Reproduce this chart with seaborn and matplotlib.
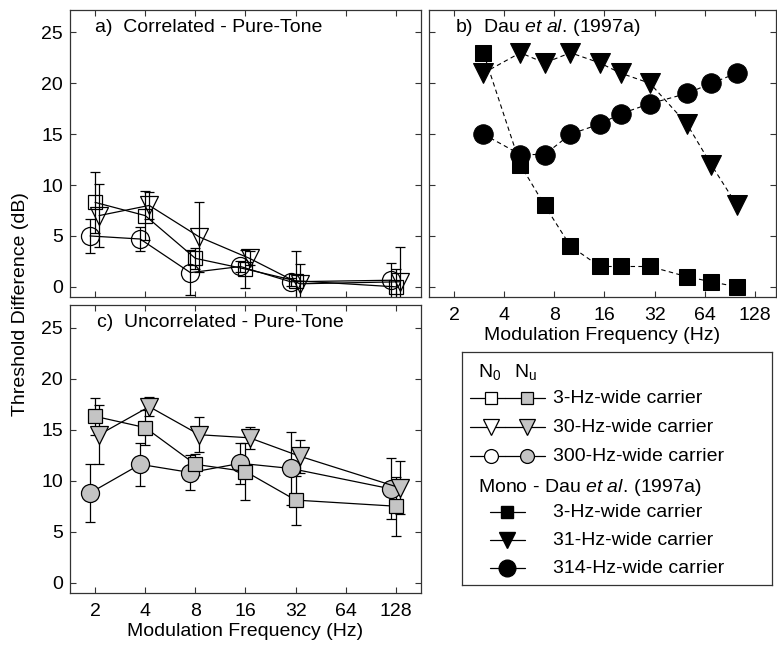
import numpy as np
import pandas as pd
import matplotlib
matplotlib.use('Agg')
import matplotlib.pyplot as plt
import seaborn as sns

# Dane
freq = [2, 4, 8, 16, 32, 128]

# a) skorelowany szum (N0), symbole puste
a_sq = [8.3, 7.0, 2.8, 1.75, 0.6, 0.0]
a_sq_err = [3.0, 2.4, 1.0, 1.9, 2.9, 1.75]
a_tri = [7.0, 8.0, 4.9, 2.8, 0.3, 0.5]
a_tri_err = [3.1, 1.3, 3.4, 0.7, 1.9, 3.4]
a_ci = [5.0, 4.7, 1.4, 2.0, 0.5, 0.65]
a_ci_err = [1.7, 1.2, 2.2, 0.5, 0.4, 1.7]

# c) nieskorelowany szum (Nu), symbole szare
c_sq = [16.3, 15.2, 11.6, 10.9, 8.1, 7.5]
c_sq_err = [1.8, 1.7, 1.0, 2.8, 2.4, 2.9]
c_tri = [14.5, 17.25, 14.5, 14.2, 12.4, 9.3]
c_tri_err = [2.9, 0.9, 1.7, 1.1, 1.6, 2.6]
c_ci = [8.8, 11.6, 10.8, 11.7, 11.2, 9.2]
c_ci_err = [2.8, 2.1, 1.7, 2.0, 3.6, 3.0]

# b) Dau et al. (1997a)
b_freq = [3, 5, 7, 10, 15, 20, 30, 50, 70, 100]
b_sq = [23, 12, 8, 4, 2, 2, 2, 1, 0.5, 0]
b_tri = [21, 23, 22, 23, 22, 21, 20, 16, 12, 8]
b_ci = [15, 13, 13, 15, 16, 17, 18, 19, 20, 21]

xticks = [2, 4, 8, 16, 32, 64, 128]
yticks = [0, 5, 10, 15, 20, 25]

sns.set_style('ticks')
plt.rcParams['font.family'] = ['Liberation Sans', 'DejaVu Sans']
plt.rcParams['font.size'] = 14
plt.rcParams['text.color'] = 'black'
plt.rcParams['axes.labelcolor'] = 'black'
plt.rcParams['xtick.color'] = 'black'
plt.rcParams['ytick.color'] = 'black'
plt.rcParams['mathtext.fontset'] = 'custom'
plt.rcParams['mathtext.rm'] = 'Liberation Sans'
plt.rcParams['mathtext.it'] = 'Liberation Sans:italic'

fs = 14
gray = '#c4c4c4'
# przesunięcia symboli w osi x (w oktawach)
shift = {'s': 1.0, 'v': 2 ** (0.08), 'o': 2 ** (-0.1)}
msize = {'s': 10, 'v': 13.5, 'o': 13}

fig = plt.figure(figsize=(7.77, 6.46), dpi=100)
ax_a = fig.add_axes([0.0901, 0.5402, 0.4517, 0.4443])
ax_b = fig.add_axes([0.5521, 0.5402, 0.4466, 0.4443])
ax_c = fig.add_axes([0.0901, 0.0820, 0.4517, 0.4458])
ax_l = fig.add_axes([0.5946, 0.0944, 0.399, 0.3607])


def panel_series(ax, y, err, marker, face):
    x = np.array(freq) * shift[marker]
    ax.errorbar(x, y, yerr=err, fmt='none', ecolor='k', elinewidth=0.9,
                capsize=3.5, capthick=0.9, zorder=2)
    sns.lineplot(x=x, y=y, ax=ax, color='k', linewidth=0.9, marker=marker,
                 markersize=msize[marker], markerfacecolor=face,
                 markeredgecolor='k', markeredgewidth=0.9, zorder=3)


for y, e, m in [(a_sq, a_sq_err, 's'), (a_tri, a_tri_err, 'v'), (a_ci, a_ci_err, 'o')]:
    panel_series(ax_a, y, e, m, 'none')
for y, e, m in [(c_ci, c_ci_err, 'o'), (c_sq, c_sq_err, 's'), (c_tri, c_tri_err, 'v')]:
    panel_series(ax_c, y, e, m, gray)

for y, m, ms in [(b_sq, 's', 11), (b_tri, 'v', 14), (b_ci, 'o', 14)]:
    sns.lineplot(x=b_freq, y=y, ax=ax_b, color='k', linewidth=0.8, linestyle=(0, (4, 3)),
                 marker=m, markersize=ms, markerfacecolor='k', markeredgecolor='k')

for ax in [ax_a, ax_b, ax_c]:
    ax.set_xscale('log', base=2)
    ax.set_xlim(2 / np.sqrt(2), 128 * np.sqrt(2))
    ax.set_ylim(-1, 27.2)
    ax.set_xticks(xticks)
    ax.set_xticklabels([str(t) for t in xticks])
    ax.set_yticks(yticks)
    ax.minorticks_off()
    ax.tick_params(direction='in', top=True, right=True, length=4, width=0.8,
                   labelsize=fs, pad=5, color='#333333', labelcolor='black')
    ax.tick_params(axis='x', pad=7)
    for s in ax.spines.values():
        s.set_linewidth(0.9)
        s.set_color('#333333')
    ax.set_ylabel('')
    ax.set_xlabel('')

ax_b.set_xlim(2 / np.sqrt(2), 128 * 2 ** 0.42)
ax_a.tick_params(labelbottom=False)
ax_b.tick_params(labelleft=False)
ax_b.set_xlabel('Modulation Frequency (Hz)', fontsize=fs, labelpad=2)
ax_c.set_xlabel('Modulation Frequency (Hz)', fontsize=fs, labelpad=2)

ax_a.text(0.071, 0.94, 'a)  Correlated - Pure-Tone', transform=ax_a.transAxes,
          fontsize=fs, va='center')
ax_b.text(0.075, 0.94, r'b)  Dau $\mathit{et\ al.}\,$(1997a)', transform=ax_b.transAxes,
          fontsize=fs, va='center')
ax_c.text(0.077, 0.94, 'c)  Uncorrelated - Pure-Tone', transform=ax_c.transAxes,
          fontsize=fs, va='center')

fig.text(0.026, 0.53, 'Threshold Difference (dB)', rotation=90, fontsize=fs,
         ha='center', va='center')

# Legenda rysowana ręcznie (współrzędne w pikselach ramki)
ax_l.set_xlim(0, 310)
ax_l.set_ylim(233, 0)
ax_l.set_xticks([])
ax_l.set_yticks([])
for s in ax_l.spines.values():
    s.set_linewidth(0.9)
    s.set_color('#333333')

ax_l.text(16, 20, r'N$_0$', fontsize=fs, va='center')
ax_l.text(52, 20, r'N$_\mathrm{u}$', fontsize=fs, va='center')
labels_top = ['3-Hz-wide carrier', '30-Hz-wide carrier', '300-Hz-wide carrier']
for i, (m, lab) in enumerate(zip(['s', 'v', 'o'], labels_top)):
    yy = 46 + i * 29
    ax_l.plot([8, 43], [yy, yy], color='k', lw=0.9)
    ax_l.plot([43, 83], [yy, yy], color='k', lw=0.9)
    ms = {'s': 8, 'v': 11, 'o': 10}[m]
    ax_l.plot([29], [yy], marker=m, ms=ms, mfc='white', mec='k', mew=0.9)
    ax_l.plot([65], [yy], marker=m, ms=ms, mfc=gray, mec='k', mew=0.9)
    ax_l.text(91, yy, lab, fontsize=fs, va='center')

ax_l.text(16, 135, r'Mono - Dau $\mathit{et\ al.}\,$(1997a)', fontsize=fs, va='center')
labels_bot = ['3-Hz-wide carrier', '31-Hz-wide carrier', '314-Hz-wide carrier']
for i, (m, lab) in enumerate(zip(['s', 'v', 'o'], labels_bot)):
    yy = 160 + i * 28
    ax_l.plot([28, 63], [yy, yy], color='k', lw=0.9)
    ms = {'s': 9, 'v': 12, 'o': 12}[m]
    ax_l.plot([45], [yy], marker=m, ms=ms, mfc='k', mec='k')
    ax_l.text(91, yy, lab, fontsize=fs, va='center')

plt.savefig('out.png', dpi=100)
plt.close()
